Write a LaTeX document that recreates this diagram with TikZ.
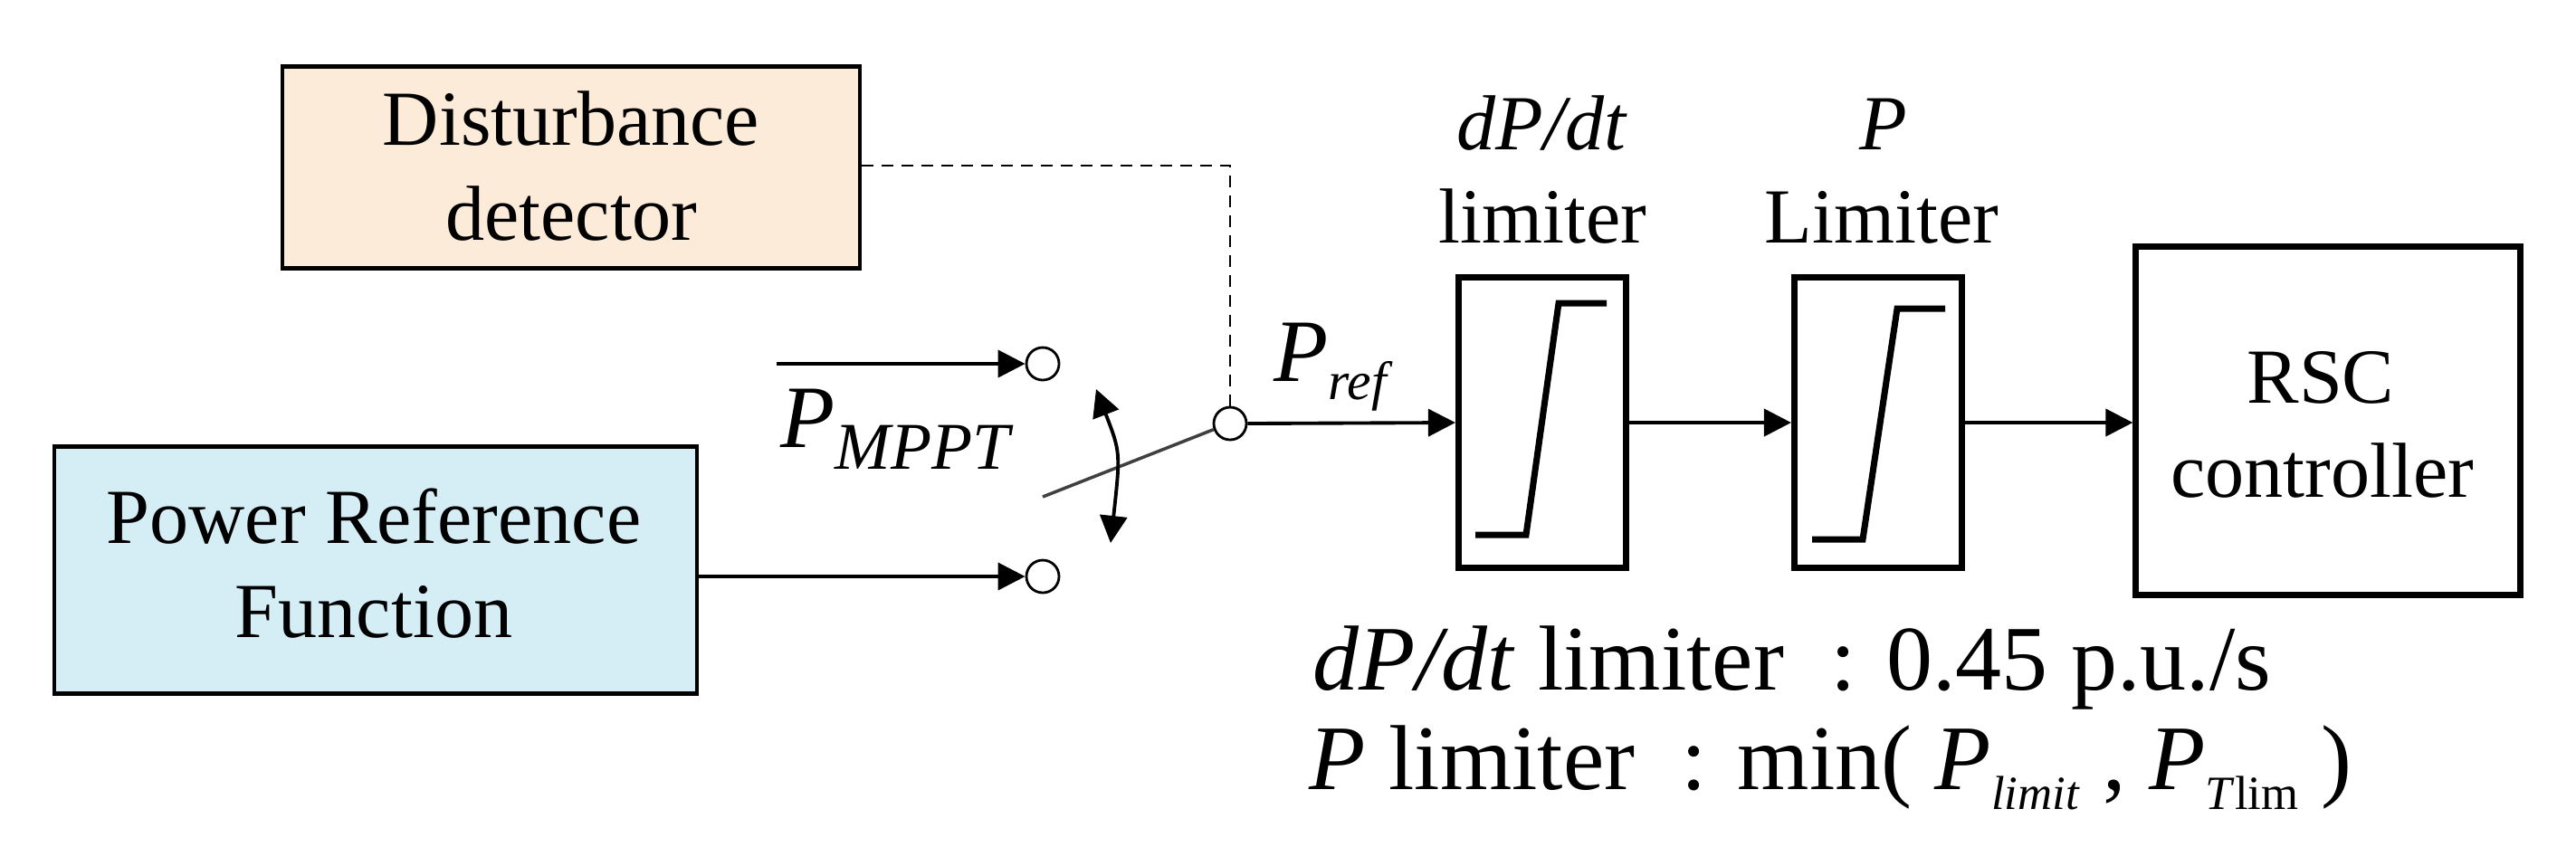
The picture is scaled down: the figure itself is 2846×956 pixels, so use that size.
\documentclass[tikz,border=0pt]{standalone}
\usepackage{fontspec}
\setmainfont{Liberation Serif}
\usetikzlibrary{arrows.meta}
\definecolor{peach}{HTML}{FDEBDA}
\definecolor{lblue}{HTML}{D5EEF5}
\begin{document}
\begin{tikzpicture}[x=0.01cm,y=-0.01cm,
  txt/.style={font=\fontsize{24.5}{30}\selectfont,anchor=base,inner sep=0},
  blk/.style={draw,line width=1.2pt,inner sep=0},
  lim/.style={draw,line width=2pt,minimum width=1.85cm,minimum height=3.21cm,inner sep=0},
  arr/.style={line width=1.1pt,-{Triangle[length=0.3cm,width=0.3cm]}},
  term/.style={circle,draw,line width=0.8pt,minimum size=0.36cm,inner sep=0},
  sat/.style={line width=2pt}]
\useasboundingbox (0,0) rectangle (2846,956);
% blocks
\node[blk,fill=peach,minimum width=6.37cm,minimum height=2.23cm] (dd) at (631,185) {};
\node[txt] (dd1) at (631,160) {Disturbance};
\node[txt] (dd2) at (631,265) {detector};
\node[blk,fill=lblue,minimum width=7.1cm,minimum height=2.73cm] (pw) at (415,630) {};
\node[txt] (pw1) at (413,600) {Power Reference};
\node[txt] (pw2) at (413,704) {Function};
\node[lim] (b1) at (1704,467) {};
\node[lim] (b2) at (2075,467) {};
\node[blk,line width=2pt,minimum width=4.24cm,minimum height=3.84cm] (rsc) at (2572,465) {};
\node[txt] (rs1) at (2564,445) {RSC};
\node[txt] (rs2) at (2566,549) {controller};
% labels above limiters
\node[txt] (l1a) at (1704,165) {\textit{dP/dt}};
\node[txt] (l1b) at (1704,268) {limiter};
\node[txt] (l2a) at (2081,165) {\textit{P}};
\node[txt] (l2b) at (2079,268) {Limiter};
% saturation curves
\draw[sat] (1630,591) -- (1686,591) -- (1722,335) -- (1775,335);
\draw[sat] (2002,596) -- (2058,596) -- (2096,341) -- (2149,341);
% switch terminals
\node[term] (c1) at (1152,402) {};
\node[term] (c2) at (1152,637) {};
\node[term] (co) at (1359,468) {};
\coordinate (in1) at (858,402);
\draw[arr] (in1) -- (c1.west);
\draw[arr] (pw.east |- c2) -- (c2.west);
\node[anchor=base west,inner sep=0,font=\fontsize{28}{30}\selectfont] (pm) at (862,494) {\textit{P}\raisebox{-0.24cm}{\fontsize{21}{24}\selectfont\textit{MPPT}}};
% blade
\coordinate (bl) at (1152,549);
\draw[line width=1pt,black!75] (bl) -- (co.200);
% curved double arrow
\coordinate (ca) at (1211,430);
\coordinate (cb) at (1227,600);
\draw[line width=1.1pt,{Triangle[length=0.3cm,width=0.3cm]}-{Triangle[length=0.3cm,width=0.3cm]}] (ca) .. controls (1238,500) .. (cb);
% dashed control
\coordinate (dk) at (1359,183);
\draw[line width=0.8pt,dash pattern=on 0.13cm off 0.09cm] (dd.east |- dk) -- (dk) -- (co.north);
% main path
\draw[arr] (co.east) -- (b1.west);
\node[anchor=base west,inner sep=0,font=\fontsize{28}{30}\selectfont] (pr) at (1407,421) {\textit{P}\raisebox{-0.2cm}{\fontsize{17}{20}\selectfont\textit{ref}}};
\draw[arr] (b1.east) -- (b2.west);
\draw[arr] (b2.east) -- (rsc.west |- b2.east);
% bottom notes
\node[anchor=base west,inner sep=0,font=\fontsize{29}{32}\selectfont] (n1) at (1450,762) {\textit{dP/dt} limiter\ \ : 0.45 p.u./s};
\node[anchor=base west,inner sep=0,font=\fontsize{29}{32}\selectfont] (n2) at (1446,872) {\textit{P} limiter\ \ : min( \textit{P}\raisebox{-0.22cm}{\fontsize{15}{18}\selectfont\textit{limit}} , \textit{P}\raisebox{-0.22cm}{\fontsize{15}{18}\selectfont\textit{T}lim} )};
\end{tikzpicture}
\end{document}
